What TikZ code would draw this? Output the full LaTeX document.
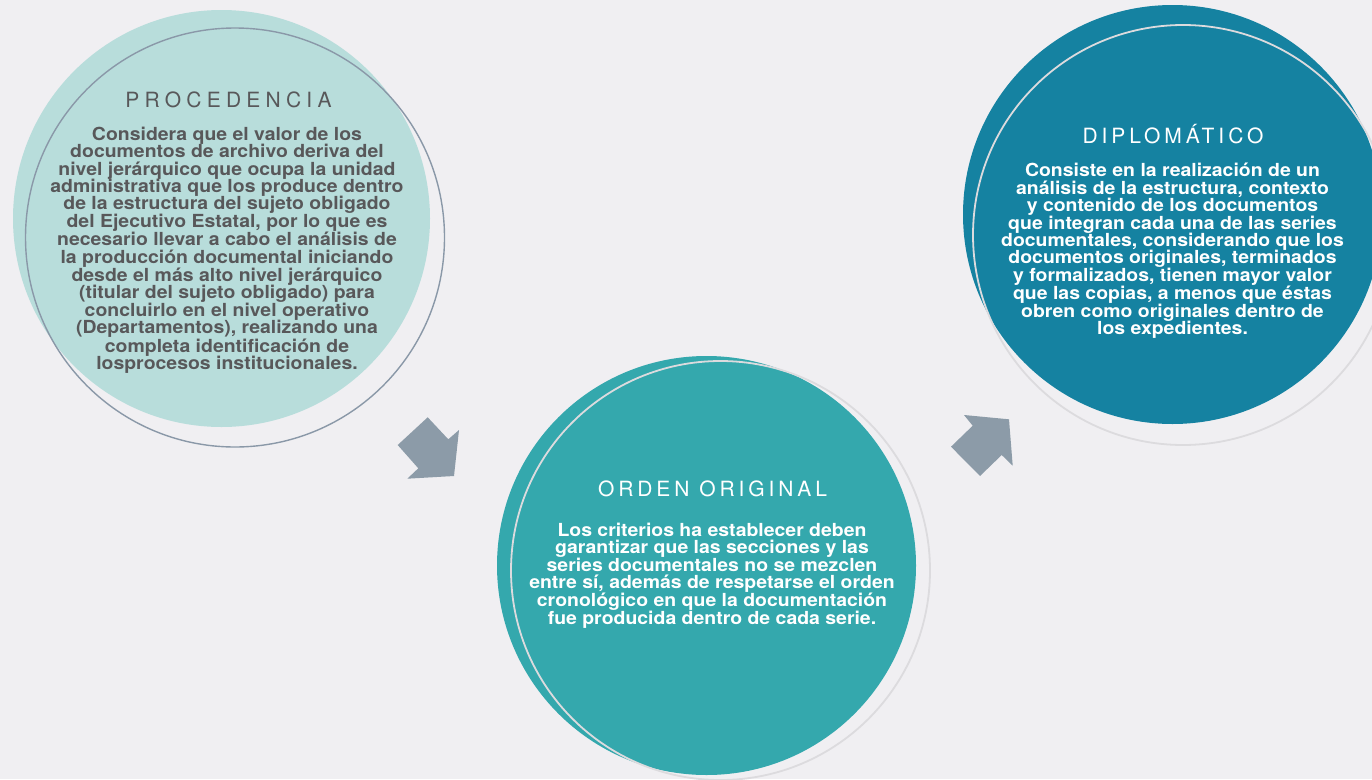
\documentclass[tikz,border=0pt]{standalone}
\usepackage{fontspec}
\setmainfont{TeX Gyre Heros}
\newfontfamily\bodyfont[FakeStretch=1.08]{TeX Gyre Heros}
\newfontfamily\headA[LetterSpace=25]{TeX Gyre Heros}
\newfontfamily\headB[LetterSpace=18.7]{TeX Gyre Heros}
\definecolor{bgc}{HTML}{F0EFF2}
\definecolor{mint}{HTML}{B8DDDB}
\definecolor{teal}{HTML}{34A8AD}
\definecolor{petrol}{HTML}{1582A1}
\definecolor{ringA}{HTML}{8A98A8}
\definecolor{ringB}{HTML}{DCDBDE}
\definecolor{ink}{HTML}{58585A}
\definecolor{arrowc}{HTML}{8C9BA8}
\begin{document}
\begin{tikzpicture}[x=1pt,y=-1pt,
  disc/.style={circle,inner sep=0pt,draw=none,minimum size=#1},
  ring/.style={circle,inner sep=0pt,fill=none,minimum size=#1},
  head/.style={anchor=base,inner sep=0pt,font=\fontsize{21}{21}\selectfont},
  body/.style={anchor=north,inner sep=0pt,align=center,
    font=\bodyfont\bfseries\fontsize{18}{17.4}\selectfont},
  blockarrow/.style={fill=arrowc,draw=none}]
\fill[bgc] (0,0) rectangle (1372,779);
\useasboundingbox (0,0) rectangle (1372,779);

% Procedencia
\node[disc=417pt,fill=mint] (c1) at (221.5,218.5) {};
\node[ring=419pt,draw=ringA,line width=1.4pt] (r1) at (235,237.5) {};
\node[head,text=ink] (t1) at (228.5,107.5) {\headA PROCEDENCIA};
\node[body,text=ink] (b1) at (227,125) {\rule{0pt}{15pt}Considera que el valor de los\\
documentos de archivo deriva del\\
nivel jerárquico que ocupa la unidad\\
administrativa que los produce dentro\\
de la estructura del sujeto obligado\\
del Ejecutivo Estatal, por lo que es\\
necesario llevar a cabo el análisis de\\
la producción documental iniciando\\
desde el más alto nivel jerárquico\\
(titular del sujeto obligado) para\\
concluirlo en el nivel operativo\\
(Departamentos), realizando una\\
completa identificación de\\
losprocesos institucionales.};

% Orden original
\node[disc=419pt,fill=teal] (c2) at (706.5,565.5) {};
\node[ring=419pt,draw=ringB,line width=1.8pt] (r2) at (720.5,570.5) {};
\node[head,text=white] (t2) at (712.5,496.5) {\headB ORDEN ORIGINAL};
\node[body,text=white] (b2) at (712,521) {\rule{0pt}{15pt}Los criterios ha establecer deben\\
garantizar que las secciones y las\\
series documentales no se mezclen\\
entre sí, además de respetarse el orden\\
cronológico en que la documentación\\
fue producida dentro de cada serie.};

% Diplomatico
\node[disc=419pt,fill=petrol] (c3) at (1172.5,214.5) {};
\node[ring=420pt,draw=ringB,line width=1.8pt] (r3) at (1183,235) {};
\node[head,text=white] (t3) at (1173,143.5) {\headB DIPLOMÁTICO};
\node[body,text=white] (b3) at (1172.5,161.7) {\rule{0pt}{15pt}Consiste en la realización de un\\
análisis de la estructura, contexto\\
y contenido de los documentos\\
que integran cada una de las series\\
documentales, considerando que los\\
documentos originales, terminados\\
y formalizados, tienen mayor valor\\
que las copias, a menos que éstas\\
obren como originales dentro de\\
los expedientes.};

% block arrows between the stages
\fill[blockarrow] (427.7,417.3) -- (448.3,439.3) -- (459,430) -- (454,476)
  -- (407.3,478.7) -- (418.3,468.3) -- (397.7,445) -- cycle;
\fill[blockarrow] (964,415) -- (1009,419.3) -- (1012.7,465.7) -- (1001.7,455)
  -- (980,476) -- (951,446.7) -- (972.7,425.7) -- cycle;
\end{tikzpicture}
\end{document}
